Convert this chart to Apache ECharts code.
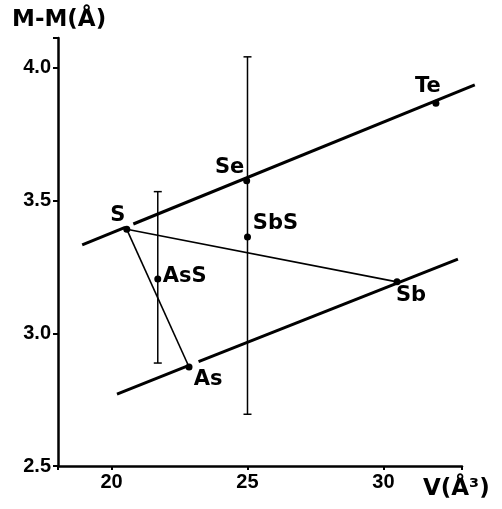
<!DOCTYPE html>
<html>
<head>
<meta charset="utf-8">
<script src="https://cdn.jsdelivr.net/npm/echarts@6/dist/echarts.min.js"></script>
<style>
html,body{margin:0;padding:0;background:#fff;}
#chart{width:502px;height:509px;}
</style>
</head>
<body>
<div id="chart"></div>
<script>
// Points (element / compound), V in Å^3, M-M in Å
const pointNames = ['S', 'Se', 'Te', 'As', 'Sb', 'SbS', 'AsS'];
const pointV     = [20.56, 24.97, 31.93, 22.85, 30.50, 25.0, 21.7];
const pointMM    = [3.392, 3.575, 3.867, 2.873, 3.194, 3.363, 3.205];
const labelOffsets = [[-9,-14], [-17,-13], [-8,-17], [19,13], [14,14], [28,-13], [27,-2]];

// Upper reference line (S-Se-Te), two pieces
const upperLineV  = [[18.92, 20.5], [20.8, 33.36]];
const upperLineMM = [[3.333, 3.399], [3.412, 3.936]];
// Lower reference line (As-Sb), two pieces
const lowerLineV  = [[20.2, 22.85], [23.2, 32.74]];
const lowerLineMM = [[2.771, 2.879], [2.893, 3.280]];

// Thin connecting lines (from S to Sb and from S to As), by point index
const thinLinks = [[0, 4], [0, 3]];

// Error bars: V, low, high
const errorV    = [21.7, 25.0];
const errorLow  = [2.888, 2.695];
const errorHigh = [3.534, 4.042];

const yTicks = [2.5, 3.0, 3.5, 4.0];
const xTicks = [20, 25, 30];

const chart = echarts.init(document.getElementById('chart'), null, {renderer: 'canvas'});
const INK = '#000';

const thickSegs = [];
upperLineV.forEach((xs, i) => thickSegs.push([xs[0], upperLineMM[i][0], xs[1], upperLineMM[i][1]]));
lowerLineV.forEach((xs, i) => thickSegs.push([xs[0], lowerLineMM[i][0], xs[1], lowerLineMM[i][1]]));

const series = [];
series.push({
  type: 'custom', clip: false, silent: true, z: 3,
  data: thickSegs,
  encode: {x: [0, 2], y: [1, 3]},
  renderItem: function (params, api) {
    const a = api.coord([api.value(0), api.value(1)]);
    const b = api.coord([api.value(2), api.value(3)]);
    return {type: 'line', shape: {x1: a[0], y1: a[1], x2: b[0], y2: b[1]},
            style: {stroke: INK, lineWidth: 3, lineCap: 'butt'}};
  }
});
thinLinks.forEach(([a, b]) => series.push({
  type: 'line', data: [[pointV[a], pointMM[a]], [pointV[b], pointMM[b]]], symbol: 'none',
  lineStyle: {color: INK, width: 1.6}, silent: true, z: 2
}));
series.push({
  type: 'custom',
  data: errorV.map((v, i) => [v, errorLow[i], errorHigh[i]]),
  encode: {x: 0, y: [1, 2]},
  renderItem: function (params, api) {
    const x = api.value(0);
    const lo = api.coord([x, api.value(1)]);
    const hi = api.coord([x, api.value(2)]);
    const hw = 4;
    const st = {stroke: INK, lineWidth: 1.5};
    return {type: 'group', children: [
      {type: 'line', shape: {x1: lo[0], y1: lo[1], x2: hi[0], y2: hi[1]}, style: st},
      {type: 'line', shape: {x1: lo[0]-hw, y1: lo[1], x2: lo[0]+hw, y2: lo[1]}, style: st},
      {type: 'line', shape: {x1: hi[0]-hw, y1: hi[1], x2: hi[0]+hw, y2: hi[1]}, style: st}
    ]};
  },
  z: 2, silent: true
});
series.push({
  type: 'scatter',
  data: pointNames.map((n, i) => ({
    name: n, value: [pointV[i], pointMM[i]],
    label: {offset: labelOffsets[i]}
  })),
  symbol: 'circle', symbolSize: 7,
  itemStyle: {color: INK, opacity: 1},
  label: {
    show: true, position: 'inside',
    formatter: p => p.name,
    fontFamily: 'DejaVu Sans', fontWeight: 'bold', fontSize: 21,
    color: INK, textBorderWidth: 0, opacity: 1
  },
  z: 5
});

chart.setOption({
  backgroundColor: '#fff',
  animation: false,
  grid: {left: 58, right: 40, top: 38, bottom: 43, containLabel: false},
  xAxis: {
    type: 'value', min: 18.03, max: 32.89, splitNumber: 3,
    splitLine: {show: false},
    axisLine: {show: true, onZero: false, lineStyle: {color: INK, width: 2.5}},
    axisTick: {show: true, inside: false, length: 4, lineStyle: {color: INK, width: 2}},
    axisLabel: {
      margin: 6, color: INK, fontFamily: 'Liberation Sans', fontWeight: 'bold', fontSize: 20,
      formatter: v => xTicks.some(t => Math.abs(t - v) < 1e-6) ? String(v) : ''
    }
  },
  yAxis: {
    type: 'value', min: 2.5, max: 4.113, interval: 0.5,
    splitLine: {show: false},
    axisLine: {show: true, onZero: false, lineStyle: {color: INK, width: 2.5}},
    axisTick: {show: true, inside: false, length: 5, lineStyle: {color: INK, width: 2}},
    axisLabel: {
      margin: 7, color: INK, fontFamily: 'Liberation Sans', fontWeight: 'bold', fontSize: 20,
      formatter: v => yTicks.some(t => Math.abs(t - v) < 1e-6) ? v.toFixed(1) : ''
    }
  },
  graphic: [
    {type: 'text', left: 12, top: 9, style: {text: 'M-M(Å)', fill: INK, font: 'bold 23px "DejaVu Sans"'}},
    {type: 'text', left: 423, top: 478, style: {text: 'V(Å³)', fill: INK, font: 'bold 23px "DejaVu Sans"'}}
  ],
  series: series
});
</script>
</body>
</html>
